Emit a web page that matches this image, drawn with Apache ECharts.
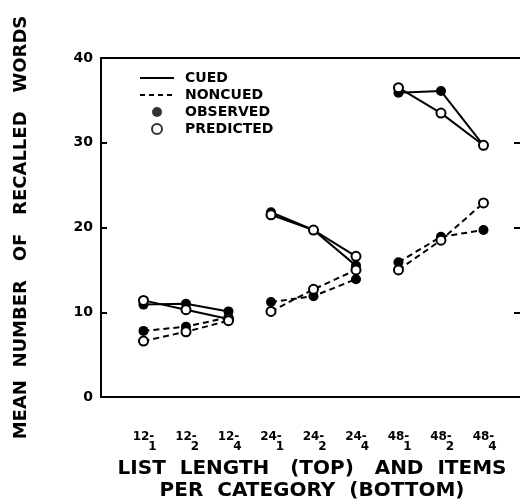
<!DOCTYPE html>
<html>
<head>
<meta charset="utf-8">
<script src="https://cdn.jsdelivr.net/npm/echarts@6/dist/echarts.min.js"></script>
<style>
  html, body { margin: 0; padding: 0; background: #fff; }
  #chart1 { width: 520px; height: 500px; }
</style>
</head>
<body>
<div id="chart1"></div>
<script>
// list length (top) and items per category (bottom)
var listLengths = ['12', '12', '12', '24', '24', '24', '48', '48', '48'];
var itemsPerCategory = ['1', '2', '4', '1', '2', '4', '1', '2', '4'];

// mean number of recalled words
var cuedObserved     = [10.9, 11.0, 10.1, 21.8, 19.7, 15.5, 35.9, 36.1, 29.7];
var cuedPredicted    = [11.4, 10.3,  9.2, 21.5, 19.7, 16.6, 36.5, 33.5, 29.7];
var noncuedObserved  = [ 7.8,  8.3,  9.4, 11.2, 11.9, 13.9, 15.9, 18.9, 19.7];
var noncuedPredicted = [ 6.6,  7.7,  9.0, 10.1, 12.7, 15.0, 15.0, 18.5, 22.9];

var yTicks = [0, 10, 20, 30, 40];

var myChart = echarts.init(document.getElementById('chart1'));

// points 1..9, broken between list-length groups
function toPoints(values) {
	var out = [];
	for (var i = 0; i < values.length; i++) {
		if (i > 0 && i % 3 === 0) out.push([i + 0.5, '-']);
		out.push([i + 1, values[i]]);
	}
	return out;
}

function dataSeries(name, values, dashed, filled) {
	return {
		name: name,
		type: 'line',
		data: toPoints(values),
		connectNulls: false,
		symbol: 'circle',
		symbolSize: filled ? 10 : 9,
		showSymbol: true,
		silent: true,
		z: filled ? 3 : 4,
		lineStyle: { color: '#000', width: 2, type: dashed ? [6, 4] : 'solid' },
		itemStyle: {
			color: filled ? '#000' : '#fff',
			borderColor: '#000',
			borderWidth: filled ? 0 : 2
		}
	};
}

var option = {
	animation: false,
	grid: {
		left: 101, top: 58, right: -3, bottom: 103,
		outerBoundsMode: 'none', containLabel: false
	},
	legend: {
		orient: 'vertical',
		left: 134,
		top: 66,
		itemWidth: 34,
		itemHeight: 10,
		itemGap: 3,
		textStyle: { color: '#000', fontFamily: 'DejaVu Sans', fontSize: 14, fontWeight: 'bold', lineHeight: 14, padding: [0, 0, 0, 6] },
		data: [
			{ name: 'CUED', itemStyle: { opacity: 0 } },
			{ name: 'NONCUED', itemStyle: { opacity: 0 } },
			'OBSERVED',
			'PREDICTED'
		]
	},
	xAxis: [{
		type: 'value',
		min: 0,
		max: 9.93,
		interval: 1,
		splitLine: { show: false },
		axisLine: { onZero: false, lineStyle: { color: '#000', width: 2 } },
		axisTick: { show: false },
		axisLabel: {
			showMaxLabel: false,
			margin: 35,
			formatter: function (v) {
				var i = Math.round(v) - 1;
				if (i < 0 || i >= listLengths.length || Math.abs(v - i - 1) > 0.01) return '';
				return '{a|' + listLengths[i] + '-}\n{b|' + itemsPerCategory[i] + '}';
			},
			rich: {
				a: { fontFamily: 'DejaVu Sans', fontSize: 12, fontWeight: 'bold', color: '#000', lineHeight: 10 },
				b: { fontFamily: 'DejaVu Sans', fontSize: 12, fontWeight: 'bold', color: '#000', lineHeight: 10, padding: [0, 0, 0, 18] }
			}
		},
		name: 'LIST  LENGTH   (TOP)   AND  ITEMS\nPER  CATEGORY  (BOTTOM)',
		nameLocation: 'middle',
		nameGap: 52,
		nameTextStyle: { color: '#000', fontFamily: 'DejaVu Sans', fontSize: 20, fontWeight: 'bold', lineHeight: 22 }
	}, {
		// top frame line
		type: 'value',
		position: 'top',
		min: 0,
		max: 9.93,
		splitLine: { show: false },
		axisLine: { onZero: false, lineStyle: { color: '#000', width: 2 } },
		axisTick: { show: false },
		axisLabel: { show: false }
	}],
	yAxis: [{
		type: 'value',
		position: 'left',
		min: yTicks[0],
		max: yTicks[yTicks.length - 1],
		interval: 10,
		splitLine: { show: false },
		axisLine: { onZero: false, lineStyle: { color: '#000', width: 2 } },
		axisTick: { inside: true, length: 6, lineStyle: { color: '#000', width: 2 } },
		axisLabel: { color: '#000', fontFamily: 'DejaVu Sans', fontSize: 14, fontWeight: 'bold', margin: 8 },
		name: 'MEAN  NUMBER   OF   RECALLED   WORDS',
		nameLocation: 'middle',
		nameRotate: 90,
		nameGap: 71,
		nameTextStyle: { color: '#000', fontFamily: 'DejaVu Sans', fontSize: 18, fontWeight: 'bold' }
	}, {
		// right-hand ticks, frame line falls outside the picture
		type: 'value',
		position: 'right',
		min: yTicks[0],
		max: yTicks[yTicks.length - 1],
		interval: 10,
		splitLine: { show: false },
		axisLine: { show: false, onZero: false },
		axisTick: { inside: true, length: 9, lineStyle: { color: '#000', width: 2 } },
		axisLabel: { show: false }
	}],
	series: [
		// legend-only entries
		{ name: 'CUED', type: 'line', data: [], symbol: 'none', lineStyle: { color: '#000', width: 2 }, itemStyle: { color: '#000' } },
		{ name: 'NONCUED', type: 'line', data: [], symbol: 'none', lineStyle: { color: '#000', width: 2, type: [5, 4] }, itemStyle: { color: '#000' } },
		{ name: 'OBSERVED', type: 'scatter', data: [], symbol: 'circle', itemStyle: { color: '#000' } },
		{ name: 'PREDICTED', type: 'scatter', data: [], symbol: 'circle', itemStyle: { color: '#fff', borderColor: '#000', borderWidth: 2 } },
		dataSeries('cued observed', cuedObserved, false, true),
		dataSeries('cued predicted', cuedPredicted, false, false),
		dataSeries('noncued observed', noncuedObserved, true, true),
		dataSeries('noncued predicted', noncuedPredicted, true, false)
	]
};

myChart.setOption(option);
</script>
</body>
</html>
